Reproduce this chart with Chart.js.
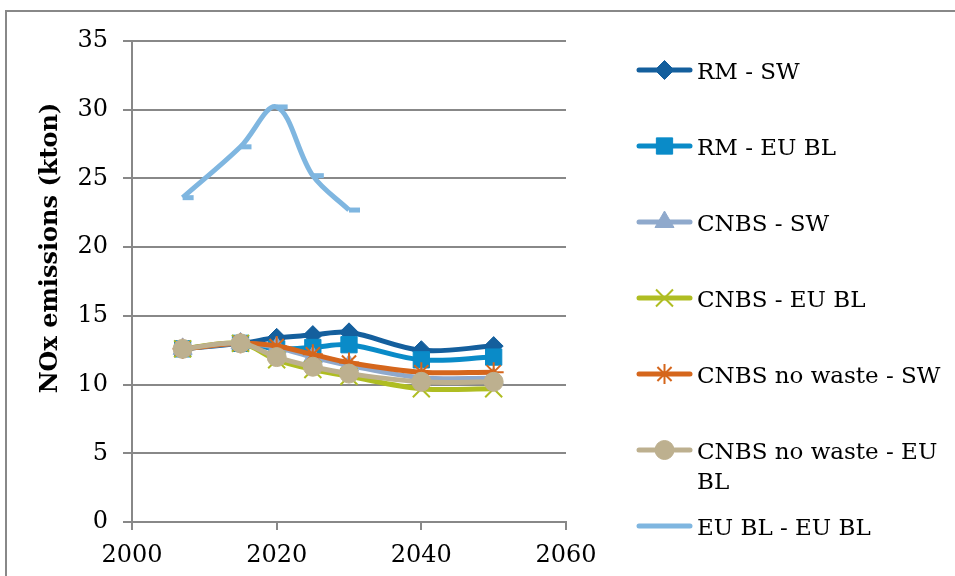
<!DOCTYPE html>
<html>
<head>
<meta charset="utf-8">
<title>NOx emissions</title>
<script src="https://cdn.jsdelivr.net/npm/chart.js@4.4.1/dist/chart.umd.min.js"></script>
<style>
  html, body { margin: 0; padding: 0; background: #fff; }
  #wrap { position: relative; width: 955px; height: 576px; overflow: hidden; }
  #frame { position: absolute; left: 5px; top: 10px; width: 1000px; height: 700px;
           border-left: 2px solid #888; border-top: 2px solid #888; pointer-events: none; }
</style>
</head>
<body>
<div id="wrap">
  <canvas id="chart_nox" width="955" height="576"></canvas>
  <div id="frame"></div>
</div>
<script>
// values (kton)
var years      = [2007, 2015, 2020, 2025, 2030, 2040, 2050];
var euYears    = [2007, 2015, 2020, 2025, 2030];
var rmSw       = [12.6, 13.0, 13.4, 13.6, 13.8, 12.5, 12.8];
var rmEuBl     = [12.6, 13.0, 12.6, 12.7, 12.9, 11.8, 12.0];
var cnbsSw     = [12.6, 13.0, 12.7, 12.0, 11.4, 10.5, 10.45];
var cnbsEuBl   = [12.6, 13.0, 11.8, 11.1, 10.6, 9.7, 9.7];
var cnbsNwSw   = [12.6, 13.0, 12.8, 12.2, 11.6, 10.9, 10.9];
var cnbsNwEuBl = [12.6, 13.0, 12.0, 11.3, 10.8, 10.2, 10.2];
var euBlEuBl   = [23.6, 27.3, 30.2, 25.2, 22.7];

var labels = ['RM - SW', 'RM - EU BL', 'CNBS - SW', 'CNBS - EU BL',
              'CNBS no waste - SW', 'CNBS no waste - EU BL', 'EU BL - EU BL'];
var values = [rmSw, rmEuBl, cnbsSw, cnbsEuBl, cnbsNwSw, cnbsNwEuBl, euBlEuBl];
var xs     = [years, years, years, years, years, years, euYears];
var yTitle = 'NOx emissions (kton)';

var cores   = ['#145f9d', '#0a8bc8', '#8fa9cc', '#afbd22', '#d5661c', '#bdb08f', '#7fb6e0'];
var markers = ['rectRot', 'rect', 'triangle', 'crossRot', 'star', 'circle', 'dash'];
var sizes   = [9.5, 11.5, 11, 12, 10, 9.5, 11];
var pointLines = [1, 1, 1, 2, 2, 1, 5];

var serif = '"DejaVu Serif", "Liberation Serif", serif';

var datasets = values.map(function(v, i) {
    return {
        label: labels[i],
        data: v.map(function(y, j) { return { x: xs[i][j], y: y }; }),
        borderColor: cores[i],
        backgroundColor: cores[i],
        borderWidth: 5,
        tension: 0.35,
        pointStyle: markers[i],
        pointRadius: sizes[i],
        pointBorderWidth: pointLines[i],
        pointBackgroundColor: cores[i],
        pointBorderColor: cores[i],
        order: values.length - i,   // later series on top, like the original
        legendMarker: markers[i] !== 'dash'
    };
});

// y title, placed by hand (it is not centred on the plot area)
var titlePlugin = {
    id: 'yTitle',
    afterDraw: function(chart) {
        var ctx = chart.ctx;
        ctx.save();
        ctx.translate(51, 248);
        ctx.rotate(-Math.PI / 2);
        ctx.font = 'bold 24px ' + serif;
        ctx.fillStyle = '#000';
        ctx.textAlign = 'center';
        ctx.textBaseline = 'middle';
        ctx.fillText(yTitle, 0, 0);
        ctx.restore();
    }
};

// legend on the right, one entry every 76px, long labels wrap
var legendPlugin = {
    id: 'sideLegend',
    afterDraw: function(chart) {
        var ctx = chart.ctx;
        var textX = 697, maxW = chart.width - textX - 4;
        ctx.save();
        ctx.font = '23px ' + serif;
        ctx.fillStyle = '#000';
        chart.data.datasets.forEach(function(ds, i) {
            var y = 70 + i * 76;
            ctx.lineCap = 'round';
            ctx.strokeStyle = ds.borderColor;
            ctx.lineWidth = 5;
            ctx.beginPath();
            ctx.moveTo(639, y);
            ctx.lineTo(690, y);
            ctx.stroke();
            if (ds.legendMarker) {
                ctx.fillStyle = ds.pointBackgroundColor;
                ctx.strokeStyle = ds.pointBorderColor;
                ctx.lineWidth = ds.pointBorderWidth;
                ctx.lineCap = 'butt';
                Chart.helpers.drawPoint(ctx, {
                    pointStyle: ds.pointStyle,
                    radius: ds.pointRadius,
                    borderWidth: ds.pointBorderWidth,
                    rotation: 0
                }, 664.5, y);
            }
            // word wrap
            var words = ds.label.split(' '), lines = [], cur = '';
            words.forEach(function(w) {
                var t = cur ? cur + ' ' + w : w;
                if (cur && ctx.measureText(t).width > maxW) { lines.push(cur); cur = w; }
                else cur = t;
            });
            lines.push(cur);
            ctx.fillStyle = '#000';
            ctx.textBaseline = 'alphabetic';
            lines.forEach(function(l, k) {
                ctx.fillText(l, textX, y + 8.5 + k * 30);
            });
        });
        ctx.restore();
    }
};

var ctx = document.getElementById('chart_nox');

var chartNox = new Chart(ctx, {
    type: 'line',
    data: { datasets: datasets },
    plugins: [titlePlugin, legendPlugin],
    options: {
        responsive: false,
        animation: false,
        events: [],
        layout: { padding: { top: 41, right: 389, left: 0, bottom: 0 } },
        plugins: {
            legend: { display: false },
            tooltip: { enabled: false }
        },
        scales: {
            x: {
                type: 'linear',
                min: 2000,
                max: 2060,
                afterFit: function(scale) { scale.height = 54; },
                grid: { drawOnChartArea: false, drawTicks: true, tickLength: 8, color: '#888', lineWidth: 2 },
                border: { color: '#888', width: 2 },
                ticks: {
                    stepSize: 20,
                    padding: 11,
                    color: '#000',
                    font: { family: serif, size: 24 },
                    maxRotation: 0,
                    callback: function(value) { return String(value); }
                }
            },
            y: {
                min: 0,
                max: 35,
                afterFit: function(scale) { scale.width = 132; },
                grid: { color: '#888', lineWidth: 2, tickLength: 9 },
                border: { color: '#888', width: 2 },
                ticks: {
                    stepSize: 5,
                    padding: 15,
                    color: '#000',
                    font: { family: serif, size: 24 },
                    callback: function(value) { return String(value); }
                }
            }
        }
    }
});
</script>
</body>
</html>
